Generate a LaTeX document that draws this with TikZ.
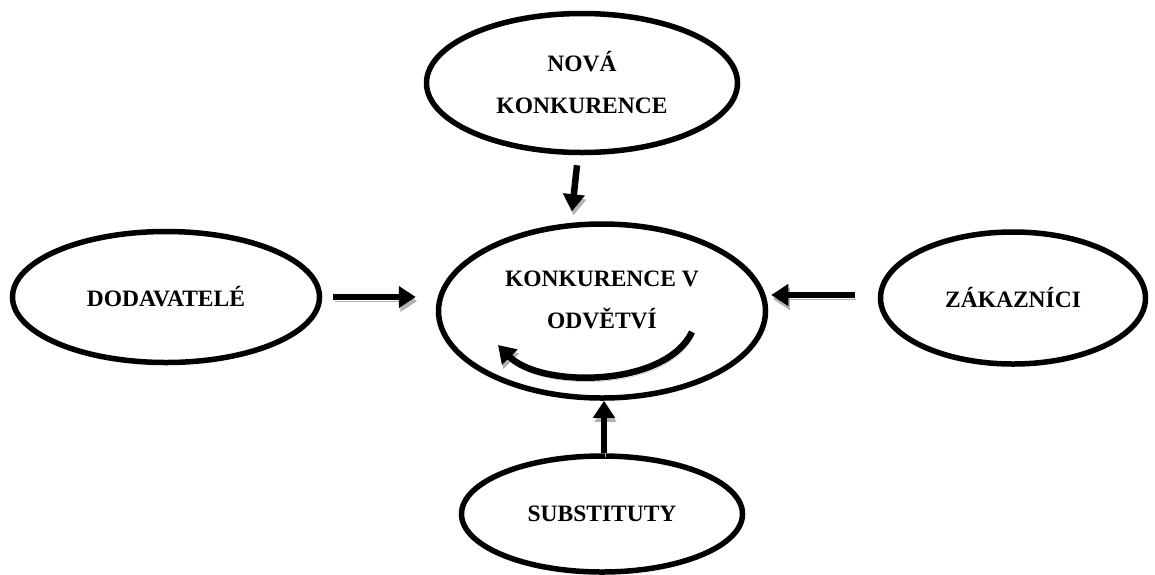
\documentclass[tikz,border=0pt]{standalone}
\usepackage{fontspec}
\setmainfont{Liberation Serif}
\usetikzlibrary{shapes.geometric,arrows.meta}
\begin{document}
\begin{tikzpicture}[x=1pt,y=-1pt,
  oval/.style={ellipse,draw,line width=5.5pt,inner sep=0pt,align=center,
    font=\fontsize{23.5}{42}\selectfont\bfseries},
  fx/.style={line width=6.5pt,-{Triangle[length=17pt,width=21pt]},
    preaction={draw=gray!60,transform canvas={shift={(1.5pt,-4pt)}}}}]
\useasboundingbox (0,0) rectangle (1155,574);
\node[oval,minimum width=311pt,minimum height=139pt] (nova) at (582,83) {NOVÁ\\KONKURENCE};
\node[oval,minimum width=327pt,minimum height=174pt] (center) at (602,311) {KONKURENCE V\\ODVĚTVÍ\\[-20pt]\mbox{}};
\node[oval,minimum width=307pt,minimum height=131pt] (dod) at (166,297) {DODAVATELÉ};
\node[oval,minimum width=265pt,minimum height=132pt] (zak) at (1013,298) {ZÁKAZNÍCI};
\node[oval,minimum width=281pt,minimum height=116pt] (sub) at (602,514) {SUBSTITUTY};
\draw[fx] ([xshift=-5pt,yshift=-10pt]nova.south) -- ([xshift=-30pt,yshift=10pt]center.north);
\draw[fx] ([xshift=11pt]dod.east) -- ([xshift=-20pt]dod.east -| center.west);
\draw[fx] ([xshift=-23pt,yshift=3pt]zak.west) -- ([xshift=3pt,yshift=3pt]zak.west -| center.east);
\draw[fx] ([xshift=2pt]sub.north) -- ([xshift=2pt]center.south);
\coordinate (cs) at (692,332);
\coordinate (ce) at (498,345);
\draw[fx] (cs) .. controls (665,388) and (540,388) .. (ce);
\end{tikzpicture}
\end{document}
